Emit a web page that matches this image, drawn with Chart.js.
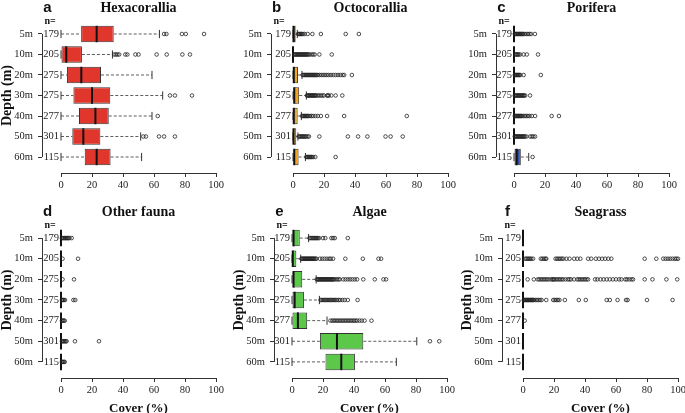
<!DOCTYPE html>
<html lang="en">
<head>
<meta charset="UTF-8">
<title>Benthic cover by depth</title>
<script src="https://cdn.jsdelivr.net/npm/chart.js"></script>
<style>
  body { margin: 0; background: #fff; }
  #wrap { position: relative; width: 685px; height: 413px; overflow: hidden; }
  #wrap canvas { position: absolute; }
</style>
</head>
<body>
<div id="wrap"></div>
<script>
const depths = ['5m', '10m', '20m', '30m', '40m', '50m', '60m'];
const counts = [179, 205, 275, 275, 277, 301, 115];

// each row: [lower whisker, Q1, median, Q3, upper whisker]
const hexaStats = [
  [0, 13, 23, 34, 63.5], [0, 0, 3.4, 13.5, 33.2], [0, 3.9, 13.1, 25.8, 58.7], [0, 8, 20, 31.8, 65.6],
  [0, 11.6, 22.2, 30.8, 58.7], [0, 7.3, 14.4, 25.4, 51.4], [0, 15.3, 23, 32, 52]
];
const hexaOut = [
  [66.5, 68, 78, 80.5, 92.3],
  [34.4, 35.4, 36.4, 37.5, 41.5, 42.8, 48, 50, 61.7, 68.2, 78.3, 83.2],
  [],
  [70.3, 73.5, 84.5],
  [62.4],
  [53.1, 54.8, 63.2, 66.5, 73.5],
  []
];

const octoStats = [
  [0, 0, 0.3, 1.7, 2.8], [0, 0, 0, 0, 0], [0, 0, 0.5, 3.2, 5.8], [0, 0, 0.8, 4, 8.6],
  [0, 0, 0.5, 3, 5.4], [0, 0, 0.3, 2.1, 3.2], [0, 0, 0.8, 3.6, 8]
];
const octoOut = [
  [3.2, 3.8, 4.4, 5, 5.6, 6.4, 7.5, 9.5, 12.5, 18, 34, 42.5],
  [0.8, 1.3, 1.8, 2.3, 2.8, 3.3, 3.8, 4.3, 4.8, 5.3, 5.8, 6.3, 6.8, 7.3, 7.8, 8.3, 8.8, 9.3, 10, 10.7, 12, 13, 14, 17, 25],
  [6.2, 6.8, 7.4, 8, 8.6, 9.2, 9.8, 10.4, 11, 11.6, 12.2, 12.8, 13.4, 14, 14.6, 15.2, 16, 17, 18.2, 19.4, 20.6, 21.8, 23, 24.5, 26, 27.5, 29, 30.5, 32, 33, 38],
  [9, 9.5, 10, 10.5, 11, 11.5, 12, 12.5, 13, 13.5, 14, 14.5, 15, 16, 17, 18, 19, 20, 22, 22.5, 23, 24.7, 27.5, 31.8],
  [5.8, 6.4, 7, 7.6, 8.2, 8.8, 9.4, 10, 11, 12, 13, 14.5, 16, 18, 22, 33, 73.4],
  [3.6, 4.2, 4.8, 5.4, 6, 6.6, 7.2, 7.8, 8.5, 9.4, 10.3, 17, 35.4, 42, 48, 59.7, 63, 70.8],
  [8.6, 9.2, 9.8, 10.4, 11, 11.6, 12.2, 13, 14.4, 27.5]
];

const poriStats = [
  [0, 0, 0, 0, 0], [0, 0, 0, 0, 0], [0, 0, 0, 0, 0], [0, 0, 0, 0, 0],
  [0, 0, 0, 0, 0], [0, 0, 0, 0, 0], [0, 0, 1.7, 4.4, 9.5]
];
const poriOut = [
  [0.5, 1, 1.5, 2, 2.5, 3, 3.5, 4, 4.5, 5, 5.5, 6, 7, 8, 9, 10, 11, 13.5],
  [1, 1.5, 2, 2.5, 3, 4, 6.2, 8.3, 15.5],
  [0.5, 1, 1.5, 2, 2.5, 3, 3.5, 4, 6.2, 17.3],
  [0.5, 1, 1.5, 2, 2.5, 3, 3.5, 4, 4.5, 5, 5.5, 6, 6.5, 7.2, 10.4],
  [0.5, 1, 1.5, 2, 2.5, 3, 3.5, 4, 4.5, 5, 6, 7, 8, 9, 10, 11.5, 13.6, 24.3, 29],
  [0.5, 1, 1.5, 2, 2.5, 3, 3.5, 4, 4.5, 5, 5.5, 6, 6.5, 7, 8, 10.4, 11.5, 12.5, 13.6],
  [12]
];

const faunaStats = [
  [0, 0, 0, 0, 0], [0, 0, 0, 0, 0], [0, 0, 0, 0, 0], [0, 0, 0, 0, 0],
  [0, 0, 0, 0, 0], [0, 0, 0, 0, 0], [0, 0, 0, 0, 0]
];
const faunaOut = [
  [0.6, 1.2, 1.8, 2.4, 3, 3.6, 4.2, 4.8, 5.5, 6.9],
  [1, 11],
  [1, 8.4],
  [0.6, 1.2, 1.8, 2.6, 8, 9.2],
  [0.6, 1.2, 1.8, 2.4],
  [0.6, 1.2, 1.8, 2.4, 3, 3.6, 9, 24.5],
  [0.6, 1.2, 1.8, 2.4]
];

const algaeStats = [
  [0, 0, 1, 5, 10.7], [0, 0, 0.5, 2.8, 5.6], [0, 0, 1, 6.6, 15.6], [0, 0, 1.7, 7.7, 17.7],
  [0, 0, 3.8, 9.8, 22.6], [0, 18, 29, 46, 80.5], [0, 21.6, 31.8, 40.6, 67.3]
];
const algaeOut = [
  [11.3, 12, 12.7, 13.4, 14, 14.7, 15.4, 16, 16.7, 17.5, 20, 21.5, 25.4, 26.5, 27.6, 36],
  [6, 6.5, 7, 7.5, 8, 8.5, 9, 9.5, 10, 10.5, 11, 11.5, 12, 12.5, 13, 13.5, 14, 14.5, 15.2, 15.8, 18, 19.5, 21, 22.5, 24, 25, 26.5, 34.4, 45.7, 55.8, 57.5],
  [16, 16.5, 17, 17.5, 18, 18.5, 19, 19.5, 20, 20.5, 21, 21.5, 22, 22.5, 23, 23.5, 24, 24.5, 25, 25.5, 26, 26.5, 27, 28, 29, 30, 30.8, 33, 34.5, 36, 37.5, 39, 40.5, 42, 46, 53.4, 59, 60.7],
  [18.4, 19.2, 20, 20.8, 21.6, 22.4, 23.2, 24, 24.8, 25.6, 26.4, 27.2, 28, 29, 30, 31, 32.5, 34, 36, 42.3],
  [24.8, 26, 27, 28, 29, 30, 31, 32, 33, 34, 35, 36, 37, 38, 39, 40, 41, 42, 43.5, 45, 46.8, 51.3],
  [89, 95],
  []
];

const seaStats = [
  [0, 0, 0, 0, 0], [0, 0, 0, 0, 0], [0, 0, 0, 0, 0], [0, 0, 0, 0, 0],
  [0, 0, 0, 0, 0], [0, 0, 0, 0, 0], [0, 0, 0, 0, 0]
];
const seaOut = [
  [],
  [1.5, 2.2, 3, 3.8, 4.5, 5.3, 6.5, 11.5, 12.5, 13.5, 14.5, 15, 21, 22, 23, 24, 25, 26, 28, 30, 33, 35, 37, 42, 44, 47, 49, 51, 53, 55, 57, 78.5, 86, 90.5, 92, 93.5, 95, 96.5, 98, 99, 100],
  [3, 7, 9.5, 10.5, 11.5, 12.5, 13.5, 14.5, 15.5, 16.5, 18, 19, 19.5, 20, 21, 22, 23, 24, 25, 26, 27.5, 29, 30, 31, 33, 35, 36, 37, 38, 39, 40, 41, 42, 46.5, 48, 50, 52, 54, 56, 58, 60, 62, 63.5, 66, 67, 68.5, 70, 71, 78.5, 83.5, 92.5, 99.5],
  [0.5, 1, 1.5, 2, 2.5, 3, 3.5, 4, 4.5, 5, 5.5, 6, 6.5, 7, 8, 9, 10, 11, 12, 15, 19.5, 20.5, 21.5, 22.5, 23.5, 27, 36, 40.5, 54, 56, 61, 66.5, 67.5, 80, 96.5],
  [1.1],
  [],
  []
];

const panels = [
  { letter: 'a', title: 'Hexacorallia', stats: hexaStats, out: hexaOut, color: '#e0362b', left: 0, top: 0, nW: 19, depthTitle: true, bottom: false },
  { letter: 'b', title: 'Octocorallia', stats: octoStats, out: octoOut, color: '#f7a21b', left: 229, top: 0, nW: 22, depthTitle: false, bottom: false },
  { letter: 'c', title: 'Porifera', stats: poriStats, out: poriOut, color: '#2d4ea6', left: 454, top: 0, nW: 18, depthTitle: false, bottom: false },
  { letter: 'd', title: 'Other fauna', stats: faunaStats, out: faunaOut, color: '#888888', left: 0, top: 204, nW: 19, depthTitle: true, bottom: true },
  { letter: 'e', title: 'Algae', stats: algaeStats, out: algaeOut, color: '#5cc84a', left: 232, top: 204, nW: 18, depthTitle: true, bottom: true },
  { letter: 'f', title: 'Seagrass', stats: seaStats, out: seaOut, color: '#3a8a3a', left: 460, top: 204, nW: 21, depthTitle: true, bottom: true }
];

Chart.defaults.font.family = 'Liberation Serif';
Chart.defaults.color = '#222';

const serif = { family: 'Liberation Serif', size: 10.5 };

function boxPlugin(p) {
  return {
    id: 'box_' + p.letter,
    afterDatasetsDraw(chart) {
      const ctx = chart.ctx;
      const xs = chart.scales.x, ys = chart.scales.y;
      const bars = chart.getDatasetMeta(0).data;
      const px = v => xs.getPixelForValue(v);
      ctx.save();
      p.stats.forEach((s, i) => {
        const y = ys.getPixelForValue(i + 1);
        const h = bars[i].height;
        // whiskers
        ctx.strokeStyle = '#333';
        ctx.lineWidth = 0.8;
        ctx.setLineDash([3, 2]);
        ctx.beginPath();
        ctx.moveTo(px(s[0]), y); ctx.lineTo(px(s[1]), y);
        ctx.moveTo(px(s[3]), y); ctx.lineTo(px(s[4]), y);
        ctx.stroke();
        ctx.setLineDash([]);
        // staples
        ctx.lineWidth = 1;
        ctx.beginPath();
        [s[0], s[4]].forEach(v => {
          ctx.moveTo(px(v), y - h / 4);
          ctx.lineTo(px(v), y + h / 4);
        });
        ctx.stroke();
        // median
        ctx.strokeStyle = '#111';
        ctx.lineWidth = 2;
        ctx.beginPath();
        ctx.moveTo(px(s[2]), y - h / 2);
        ctx.lineTo(px(s[2]), y + h / 2);
        ctx.stroke();
        // outliers
        ctx.strokeStyle = '#222';
        ctx.lineWidth = 0.8;
        p.out[i].forEach(v => {
          ctx.beginPath();
          ctx.arc(px(v), y, 1.8, 0, Math.PI * 2);
          ctx.stroke();
        });
      });
      ctx.restore();
    },
    afterDraw(chart) {
      const ctx = chart.ctx;
      const ys = chart.scales.y;
      const area = chart.chartArea;
      const bx = Math.round(ys.right) + 0.5;
      ctx.save();
      // bracket joining the depth ticks
      ctx.strokeStyle = '#333';
      ctx.lineWidth = 1;
      ctx.beginPath();
      ctx.moveTo(bx, ys.getPixelForValue(1));
      ctx.lineTo(bx, ys.getPixelForValue(depths.length));
      ctx.stroke();
      ctx.fillStyle = '#111';
      ctx.textBaseline = 'middle';
      ctx.textAlign = 'center';
      ctx.font = 'bold 14px "Liberation Serif"';
      ctx.fillText(p.title, (area.left + area.right) / 2, 8);
      ctx.font = 'bold 15px "Liberation Sans"';
      ctx.fillText(p.letter, bx + 5, 8);
      ctx.textAlign = 'left';
      ctx.font = 'bold 10px "Liberation Serif"';
      ctx.fillText('n=', bx + 2, area.top + 3);
      ctx.restore();
    }
  };
}

const wrap = document.getElementById('wrap');

panels.forEach(p => {
  const canvas = document.createElement('canvas');
  const W = 42 + p.nW + 155 + 12;
  const H = p.bottom ? 213 : 200;
  canvas.width = W;
  canvas.height = H;
  canvas.style.left = p.left + 'px';
  canvas.style.top = p.top + 'px';
  canvas.style.width = W + 'px';
  canvas.style.height = H + 'px';
  wrap.appendChild(canvas);

  new Chart(canvas.getContext('2d'), {
    type: 'bar',
    data: {
      datasets: [{
        data: p.stats.map((s, i) => ({ x: [s[1], s[3]], y: i + 1 })),
        backgroundColor: p.color,
        borderColor: '#333',
        borderWidth: 1,
        borderSkipped: false,
        barPercentage: 0.8,
        categoryPercentage: 1
      }]
    },
    options: {
      indexAxis: 'y',
      responsive: false,
      animation: false,
      layout: { padding: { top: 18, right: 12, left: 0, bottom: 0 } },
      plugins: { legend: { display: false }, tooltip: { enabled: false } },
      scales: {
        x: {
          type: 'linear', min: 0, max: 100,
          ticks: { stepSize: 20, font: serif, color: '#222', padding: 2, maxRotation: 0 },
          grid: { drawOnChartArea: false, drawTicks: true, tickLength: 4, tickColor: '#333' },
          border: { color: '#333', width: 1 },
          title: {
            display: p.bottom, text: 'Cover (%)', color: '#111',
            font: { family: 'Liberation Serif', size: 13, weight: 'bold', lineHeight: 1 },
            padding: { top: 0, bottom: 2 }
          },
          afterFit: s => { s.height = p.bottom ? 39 : 27; }
        },
        y: {
          type: 'linear', position: 'left', min: 0.22, max: 7.78, reverse: true, weight: 1, offset: false,
          afterBuildTicks: s => { s.ticks = depths.map((d, i) => ({ value: i + 1 })); },
          ticks: { callback: (v, i) => depths[i], font: serif, color: '#222', padding: 5 },
          grid: { offset: false, drawOnChartArea: false, drawTicks: true, tickLength: 4, tickColor: '#333' },
          border: { display: false },
          title: {
            display: p.depthTitle, text: 'Depth (m)', color: '#111',
            font: { family: 'Liberation Serif', size: 14, weight: 'bold', lineHeight: 1 },
            padding: { top: 0, bottom: 0 }
          },
          afterFit: s => { s.width = 42; }
        },
        yn: {
          type: 'linear', position: 'left', min: 0.22, max: 7.78, reverse: true, weight: 0, offset: false,
          afterBuildTicks: s => { s.ticks = counts.map((c, i) => ({ value: i + 1 })); },
          ticks: { callback: (v, i) => String(counts[i]), font: serif, color: '#222', padding: 2 },
          grid: { display: false, drawTicks: false },
          border: { display: false },
          afterFit: s => { s.width = p.nW; }
        }
      }
    },
    plugins: [boxPlugin(p)]
  });
});
</script>
</body>
</html>
